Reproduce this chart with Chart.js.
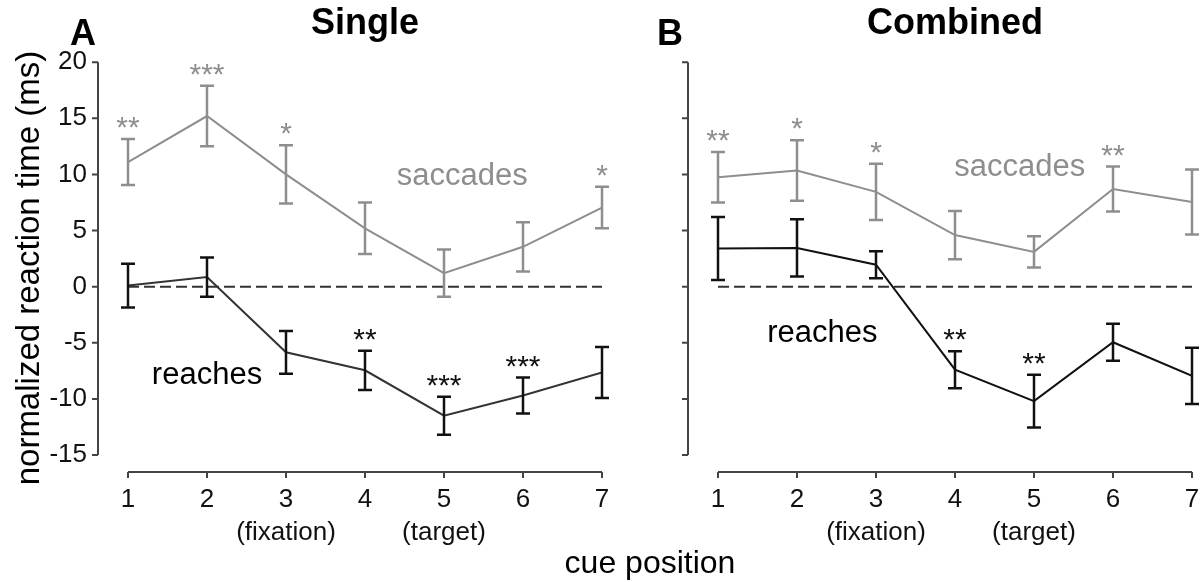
<!DOCTYPE html>
<html lang="en">
<head>
<meta charset="UTF-8">
<title>Normalized reaction time by cue position</title>
<script src="https://cdn.jsdelivr.net/npm/chart.js@4"></script>
<style>
  body { margin: 0; background: #fff; }
  #wrap { position: relative; width: 1204px; height: 582px; overflow: hidden; font-family: "Liberation Sans", Arial, sans-serif; }
  #wrap canvas { position: absolute; top: 0; }
  #xTitle { position: absolute; left: 450px; width: 400px; top: 546px; text-align: center; font-size: 32px; line-height: 32px; color: #000; }
</style>
</head>
<body>
<div id="wrap">
  <canvas id="panelA" width="640" height="582" style="left:0"></canvas>
  <canvas id="panelB" width="564" height="582" style="left:640px"></canvas>
  <div id="xTitle">cue position</div>
</div>
<script>
// cue positions and the extra line under some tick numbers
const cuePositions = [1, 2, 3, 4, 5, 6, 7];
const cueNotes = ['', '', '(fixation)', '', '(target)', '', ''];

// A: single
const singleSaccMean = [11.1, 15.2, 10.0, 5.2, 1.2, 3.55, 7.05];
const singleSaccErr = [2.05, 2.7, 2.6, 2.3, 2.1, 2.2, 1.85];
const singleSaccStars = ['**', '***', '*', '', '', '', '*'];
const singleReachMean = [0.1, 0.85, -5.85, -7.45, -11.5, -9.7, -7.65];
const singleReachErr = [1.95, 1.75, 1.9, 1.75, 1.7, 1.6, 2.27];
const singleReachStars = ['', '', '', '**', '***', '***', ''];

// B: combined
const combSaccMean = [9.75, 10.35, 8.45, 4.6, 3.1, 8.7, 7.55];
const combSaccErr = [2.25, 2.7, 2.5, 2.15, 1.4, 2.0, 2.9];
const combSaccStars = ['**', '*', '*', '', '', '**', ''];
const combReachMean = [3.4, 3.45, 1.95, -7.4, -10.2, -4.95, -7.95];
const combReachErr = [2.8, 2.55, 1.2, 1.65, 2.35, 1.65, 2.5];
const combReachStars = ['', '', '', '**', '**', '', ''];

const FONT = '"Liberation Sans", Arial, sans-serif';
const SACC = '#8e8e8e';
const AXIS = '#444';

function points(means) {
    return cuePositions.map((c, i) => ({ x: c, y: means[i] }));
}

// offset axes (drawn a little away from the plot area), error bars, stars, text labels
const figureParts = {
    id: 'figureParts',
    beforeDatasetsDraw(chart) {
        const { ctx, chartArea, scales: { x, y } } = chart;
        const axX = chartArea.left - 30;
        const axY = chartArea.bottom + 17;
        ctx.save();
        ctx.strokeStyle = AXIS;
        ctx.lineWidth = 2;
        ctx.beginPath();
        ctx.moveTo(axX, y.getPixelForValue(y.max));
        ctx.lineTo(axX, y.getPixelForValue(y.min));
        y.ticks.forEach(t => {
            const py = y.getPixelForValue(t.value);
            ctx.moveTo(axX, py);
            ctx.lineTo(axX - 6, py);
        });
        ctx.moveTo(x.getPixelForValue(x.min), axY);
        ctx.lineTo(x.getPixelForValue(x.max), axY);
        x.ticks.forEach(t => {
            const px = x.getPixelForValue(t.value);
            ctx.moveTo(px, axY);
            ctx.lineTo(px, axY + 6);
        });
        ctx.stroke();
        ctx.restore();
    },
    afterDatasetsDraw(chart, args, opts) {
        const { ctx, scales: { x, y } } = chart;
        ctx.save();
        chart.data.datasets.forEach(ds => {
            if (!ds.errors) return;
            ctx.strokeStyle = ds.errorColor;
            ctx.lineWidth = 2.5;
            ds.data.forEach((p, i) => {
                const px = x.getPixelForValue(p.x);
                const top = y.getPixelForValue(p.y + ds.errors[i]);
                const bot = y.getPixelForValue(p.y - ds.errors[i]);
                ctx.beginPath();
                ctx.moveTo(px, top); ctx.lineTo(px, bot);
                ctx.moveTo(px - 7, top); ctx.lineTo(px + 7, top);
                ctx.moveTo(px - 7, bot); ctx.lineTo(px + 7, bot);
                ctx.stroke();
                if (ds.stars[i]) {
                    ctx.fillStyle = ds.errorColor;
                    ctx.font = '30px ' + FONT;
                    ctx.textAlign = 'center';
                    ctx.textBaseline = 'alphabetic';
                    ctx.fillText(ds.stars[i], px, top - 2);
                }
            });
        });
        ctx.font = '31px ' + FONT;
        ctx.textAlign = 'center';
        ctx.textBaseline = 'alphabetic';
        opts.labels.forEach(l => {
            ctx.fillStyle = l.color;
            ctx.fillText(l.text, x.getPixelForValue(l.x), y.getPixelForValue(l.y));
        });
        ctx.fillStyle = '#000';
        ctx.font = 'bold 36px ' + FONT;
        ctx.fillText(opts.letter, opts.letterX, 45);
        if (opts.yTitle) {
            ctx.translate(30, 268);
            ctx.rotate(-Math.PI / 2);
            ctx.font = '33px ' + FONT;
            ctx.textBaseline = 'middle';
            ctx.fillText(opts.yTitle, 0, 0);
        }
        ctx.restore();
    }
};

// ticks are kept invisible: their length pushes the labels away from the plot area
const hiddenTicks = len => ({ display: true, drawOnChartArea: false, drawTicks: true, tickLength: len, color: 'rgba(0,0,0,0)' });

function makePanel(id, cfg) {
    return new Chart(document.getElementById(id), {
        type: 'line',
        data: {
            datasets: [
                {
                    data: points(cfg.saccMean), errors: cfg.saccErr, stars: cfg.saccStars,
                    borderColor: SACC, errorColor: SACC, borderWidth: 2
                },
                {
                    data: points(cfg.reachMean), errors: cfg.reachErr, stars: cfg.reachStars,
                    borderColor: cfg.reachLine, errorColor: '#111', borderWidth: 2
                },
                {
                    data: [{ x: cuePositions[0], y: 0 }, { x: cuePositions[cuePositions.length - 1], y: 0 }],
                    borderColor: '#333', borderWidth: 2, borderDash: [11, 5]
                }
            ]
        },
        options: {
            responsive: false,
            animation: false,
            layout: { padding: { left: 0, right: cfg.padRight, top: 0, bottom: 0 } },
            elements: { point: { radius: 0 }, line: { tension: 0 } },
            plugins: {
                legend: { display: false },
                tooltip: { enabled: false },
                title: {
                    display: true, text: cfg.title, fullSize: false, color: '#000',
                    font: { family: FONT, size: 36, weight: 'bold', lineHeight: 1.2 },
                    padding: { top: 2, bottom: 17 }
                },
                figureParts: { labels: cfg.labels, letter: cfg.letter, letterX: cfg.letterX, yTitle: cfg.yTitle }
            },
            scales: {
                x: {
                    type: 'linear', min: 1, max: 7,
                    grid: hiddenTicks(28),
                    border: { display: false },
                    afterFit: s => { s.height = 127; },
                    ticks: {
                        stepSize: 1, padding: 0, color: '#111',
                        maxRotation: 0, minRotation: 0, autoSkip: false,
                        font: { family: FONT, size: 26, lineHeight: 1.27 },
                        callback: v => cueNotes[v - 1] ? [String(v), cueNotes[v - 1]] : String(v)
                    }
                },
                y: {
                    min: -15, max: 20,
                    grid: hiddenTicks(41),
                    border: { display: false },
                    afterFit: s => { s.width = cfg.yWidth; },
                    ticks: {
                        display: cfg.yTicks, stepSize: 5, padding: 0, color: '#111',
                        font: { family: FONT, size: 26 },
                        callback: v => String(v)
                    }
                }
            }
        },
        plugins: [figureParts]
    });
}

makePanel('panelA', {
    title: 'Single', letter: 'A', letterX: 83,
    saccMean: singleSaccMean, saccErr: singleSaccErr, saccStars: singleSaccStars,
    reachMean: singleReachMean, reachErr: singleReachErr, reachStars: singleReachStars,
    reachLine: '#333', yWidth: 128, padRight: 38, yTicks: true,
    yTitle: 'normalized reaction time (ms)',
    labels: [
        { text: 'saccades', x: 5.23, y: 9.08, color: SACC },
        { text: 'reaches', x: 2.0, y: -8.64, color: '#000' }
    ]
});

makePanel('panelB', {
    title: 'Combined', letter: 'B', letterX: 30,
    saccMean: combSaccMean, saccErr: combSaccErr, saccStars: combSaccStars,
    reachMean: combReachMean, reachErr: combReachErr, reachStars: combReachStars,
    reachLine: '#111', yWidth: 78, padRight: 12, yTicks: false, yTitle: '',
    labels: [
        { text: 'saccades', x: 4.82, y: 9.88, color: SACC },
        { text: 'reaches', x: 2.32, y: -4.9, color: '#000' }
    ]
});
</script>
</body>
</html>
